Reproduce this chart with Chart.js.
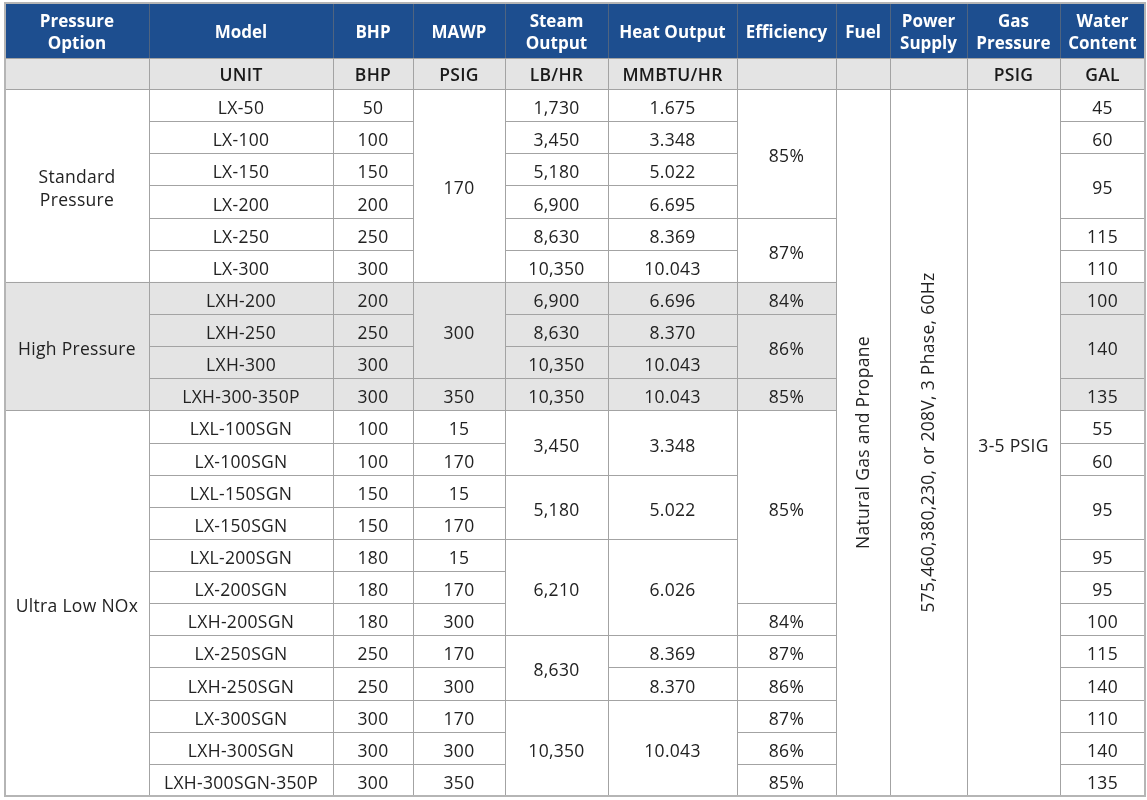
<!DOCTYPE html>
<html>
<head>
<meta charset="utf-8">
<script src="https://cdn.jsdelivr.net/npm/chart.js@4.4.1/dist/chart.umd.min.js"></script>
<style>
  html, body { margin: 0; padding: 0; background: #fff; }
  #specTable { display: block; }
</style>
</head>
<body>
<canvas id="specTable" width="1147" height="800"></canvas>
<script>
// table content, one array per column; spans = how many model rows a merged cell covers
const headers = ['Pressure\nOption', 'Model', 'BHP', 'MAWP', 'Steam\nOutput', 'Heat Output', 'Efficiency', 'Fuel', 'Power\nSupply', 'Gas\nPressure', 'Water\nContent'];
const units = ['', 'UNIT', 'BHP', 'PSIG', 'LB/HR', 'MMBTU/HR', '', '', '', 'PSIG', 'GAL'];

const pressureGroups = ['Standard\nPressure', 'High Pressure', 'Ultra Low NOx'];
const pressureSpans = [6, 4, 12];

const models = ['LX-50', 'LX-100', 'LX-150', 'LX-200', 'LX-250', 'LX-300',
  'LXH-200', 'LXH-250', 'LXH-300', 'LXH-300-350P',
  'LXL-100SGN', 'LX-100SGN', 'LXL-150SGN', 'LX-150SGN', 'LXL-200SGN', 'LX-200SGN',
  'LXH-200SGN', 'LX-250SGN', 'LXH-250SGN', 'LX-300SGN', 'LXH-300SGN', 'LXH-300SGN-350P'];
const bhp = [50, 100, 150, 200, 250, 300, 200, 250, 300, 300,
  100, 100, 150, 150, 180, 180, 180, 250, 250, 300, 300, 300];

const mawp = ['170', '300', '350', '15', '170', '15', '170', '15', '170', '300', '170', '300', '170', '300', '350'];
const mawpSpans = [6, 3, 1, 1, 1, 1, 1, 1, 1, 1, 1, 1, 1, 1, 1];

const steamOutput = ['1,730', '3,450', '5,180', '6,900', '8,630', '10,350', '6,900', '8,630', '10,350', '10,350',
  '3,450', '5,180', '6,210', '8,630', '10,350'];
const steamSpans = [1, 1, 1, 1, 1, 1, 1, 1, 1, 1, 2, 2, 3, 2, 3];

const heatOutput = ['1.675', '3.348', '5.022', '6.695', '8.369', '10.043', '6.696', '8.370', '10.043', '10.043',
  '3.348', '5.022', '6.026', '8.369', '8.370', '10.043'];
const heatSpans = [1, 1, 1, 1, 1, 1, 1, 1, 1, 1, 2, 2, 3, 1, 1, 3];

const efficiency = ['85%', '87%', '84%', '86%', '85%', '85%', '84%', '87%', '86%', '87%', '86%', '85%'];
const efficiencySpans = [4, 2, 1, 2, 1, 6, 1, 1, 1, 1, 1, 1];

const fuel = ['Natural Gas and Propane'];
const powerSupply = ['575,460,380,230, or 208V, 3 Phase, 60Hz'];
const gasPressure = ['3-5 PSIG'];

const waterContent = ['45', '60', '95', '115', '110', '100', '140', '135',
  '55', '60', '95', '95', '95', '100', '115', '140', '110', '140', '135'];
const waterSpans = [1, 1, 2, 1, 1, 1, 2, 1, 1, 1, 2, 1, 1, 1, 1, 1, 1, 1, 1];

// layout (not data)
const colWidths = [144, 184, 80, 92, 103, 129, 99, 54, 77, 93, 85];
const headerH = 55, unitH = 31, rowH = 32.1;
const NROWS = models.length;
const ones = n => Array(n).fill(1);

const columns = [
  { values: pressureGroups, spans: pressureSpans },
  { values: models, spans: ones(models.length) },
  { values: bhp.map(String), spans: ones(bhp.length) },
  { values: mawp, spans: mawpSpans },
  { values: steamOutput, spans: steamSpans },
  { values: heatOutput, spans: heatSpans },
  { values: efficiency, spans: efficiencySpans },
  { values: fuel, spans: [NROWS], rotate: true },
  { values: powerSupply, spans: [NROWS], rotate: true },
  { values: gasPressure, spans: [NROWS] },
  { values: waterContent, spans: waterSpans }
];

const colEdges = [0];
colWidths.forEach(w => colEdges.push(colEdges[colEdges.length - 1] + w));
const TOTAL_W = colEdges[colEdges.length - 1];
const bodyTop = headerH + unitH;
const TOTAL_H = bodyTop + NROWS * rowH;

// rows in the High Pressure group get the grey fill
const shadeStart = pressureSpans[0];
const shadeEnd = pressureSpans[0] + pressureSpans[1];

const FONT = '"Proxima Nova", "Open Sans", sans-serif';

// build the cell list from the arrays
const cells = [];
headers.forEach((h, c) => cells.push({ c, r0: 0, r1: headerH, text: h, kind: 'header' }));
units.forEach((u, c) => cells.push({ c, r0: headerH, r1: bodyTop, text: u, kind: 'unit' }));
columns.forEach((col, c) => {
  let row = 0;
  col.values.forEach((v, i) => {
    const span = col.spans[i];
    cells.push({
      c, r0: bodyTop + row * rowH, r1: bodyTop + (row + span) * rowH, text: v,
      kind: 'body', rotate: !!col.rotate,
      shaded: row >= shadeStart && row + span <= shadeEnd
    });
    row += span;
  });
});

const tablePlugin = {
  id: 'tablePlugin',
  beforeDatasetsDraw(chart) {
    const { ctx, scales: { x, y } } = chart;
    const px = v => x.getPixelForValue(v);
    const py = v => y.getPixelForValue(v);
    ctx.save();

    // fills
    cells.forEach(cell => {
      const x0 = px(colEdges[cell.c]), x1 = px(colEdges[cell.c + 1]);
      const y0 = py(cell.r0), y1 = py(cell.r1);
      let fill = '#ffffff';
      if (cell.kind === 'header') fill = '#1d4e8f';
      else if (cell.kind === 'unit' || cell.shaded) fill = '#e4e4e4';
      ctx.fillStyle = fill;
      ctx.fillRect(x0, y0, x1 - x0, y1 - y0);
    });

    // borders
    cells.forEach(cell => {
      const x0 = Math.round(px(colEdges[cell.c])) + 0.5, x1 = Math.round(px(colEdges[cell.c + 1])) + 0.5;
      const y0 = Math.round(py(cell.r0)) + 0.5, y1 = Math.round(py(cell.r1)) + 0.5;
      ctx.strokeStyle = cell.kind === 'header' ? '#4f6480' : '#a3a3a3';
      ctx.lineWidth = 1;
      ctx.strokeRect(x0, y0, x1 - x0, y1 - y0);
    });
    // outer frame
    ctx.strokeStyle = '#b5b5b5';
    ctx.lineWidth = 2;
    ctx.strokeRect(px(0), py(0), px(TOTAL_W) - px(0), py(TOTAL_H) - py(0));

    // text
    ctx.textAlign = 'center';
    ctx.textBaseline = 'middle';
    cells.forEach(cell => {
      if (!cell.text) return;
      const cx = (px(colEdges[cell.c]) + px(colEdges[cell.c + 1])) / 2;
      const cy = (py(cell.r0) + py(cell.r1)) / 2;
      let shift = 4;
      if (cell.kind === 'header') {
        ctx.font = 'bold 17px ' + FONT;
        ctx.letterSpacing = '0px';
        ctx.fillStyle = '#ffffff';
        shift = 2.5;
      } else if (cell.kind === 'unit') {
        ctx.font = '600 17.5px ' + FONT;
        ctx.letterSpacing = '0.3px';
        ctx.fillStyle = '#1a1a1a';
        shift = 2.5;
      } else {
        ctx.font = '17.5px ' + FONT;
        ctx.letterSpacing = '0.3px';
        ctx.fillStyle = '#222222';
      }
      const lines = cell.text.split('\n');
      const lh = 22.5;
      ctx.save();
      ctx.translate(cx, cy);
      if (cell.rotate) {
        ctx.rotate(-Math.PI / 2);
        shift = 1;
      }
      lines.forEach((ln, i) => {
        ctx.fillText(ln, 0, (i - (lines.length - 1) / 2) * lh + shift);
      });
      ctx.restore();
    });
    ctx.restore();
  }
};

// one invisible point per cell centre so the library owns the coordinate space
const centres = cells.map(cell => ({
  x: (colEdges[cell.c] + colEdges[cell.c + 1]) / 2,
  y: (cell.r0 + cell.r1) / 2
}));

new Chart(document.getElementById('specTable'), {
  type: 'scatter',
  data: {
    datasets: [{
      label: 'cells',
      data: centres,
      pointRadius: 0,
      pointHoverRadius: 0
    }]
  },
  options: {
    responsive: false,
    animation: false,
    devicePixelRatio: 1,
    layout: { padding: { left: 5, top: 3, right: 2, bottom: 4 } },
    plugins: { legend: { display: false }, tooltip: { enabled: false } },
    events: [],
    scales: {
      x: { type: 'linear', display: false, min: 0, max: TOTAL_W },
      y: { type: 'linear', display: false, min: 0, max: TOTAL_H, reverse: true }
    }
  },
  plugins: [tablePlugin]
});
</script>
</body>
</html>
